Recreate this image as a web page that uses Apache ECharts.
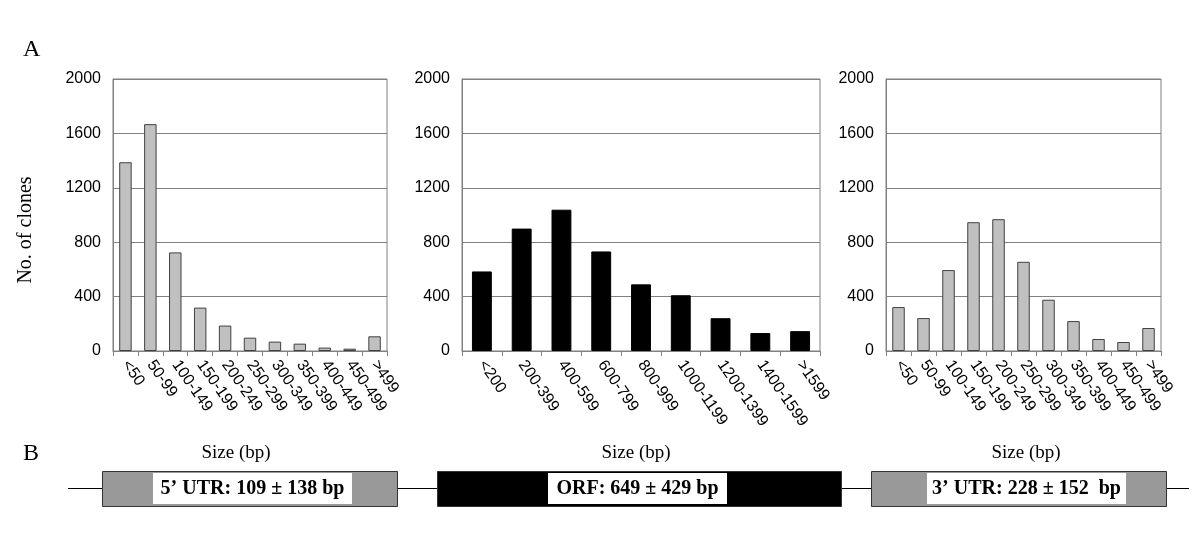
<!DOCTYPE html>
<html lang="en">
<head>
<meta charset="UTF-8">
<title>clone size distribution</title>
<script src="https://cdn.jsdelivr.net/npm/echarts@6/dist/echarts.min.js"></script>
<style>
  html, body { margin: 0; padding: 0; background: #fff; }
  #chart { width: 1200px; height: 540px; }
</style>
</head>
<body>
<div id="chart"></div>
<script>
// size classes and clone counts
const utr5Cats = ['<50', '50-99', '100-149', '150-199', '200-249', '250-299', '300-349', '350-399', '400-449', '450-499', '>499'];
const utr5Counts = [1388, 1668, 725, 319, 187, 98, 69, 54, 25, 17, 108];

const orfCats = ['<200', '200-399', '400-599', '600-799', '800-999', '1000-1199', '1200-1399', '1400-1599', '>1599'];
const orfCounts = [585, 900, 1039, 732, 490, 410, 241, 132, 146];

const utr3Cats = ['<50', '50-99', '100-149', '150-199', '200-249', '250-299', '300-349', '350-399', '400-449', '450-499', '>499'];
const utr3Counts = [323, 242, 595, 947, 969, 656, 377, 220, 88, 66, 169];

// panel B captions
const regionLabels = ['5\u2019 UTR: 109 \u00b1 138 bp', 'ORF: 649 \u00b1 429 bp', '3\u2019 UTR: 228 \u00b1 152  bp'];

const sans = '"Liberation Sans", Arial, sans-serif';
const serif = '"Liberation Serif", "Times New Roman", serif';
const axisGray = '#808080';

const grids = [
  { left: 113, top: 79, width: 274, height: 272 },
  { left: 462, top: 79, width: 358, height: 272 },
  { left: 886, top: 79, width: 275, height: 272 }
];

const panels = [
  { cats: utr5Cats, counts: utr5Counts, color: '#c0c0c0', border: '#404040' },
  { cats: orfCats, counts: orfCounts, color: '#000000', border: '#000000' },
  { cats: utr3Cats, counts: utr3Counts, color: '#c0c0c0', border: '#404040' }
];

const chart = echarts.init(document.getElementById('chart'), null, { renderer: 'canvas' });

// schematic for panel B (layout only, not data)
const boxes = [
  { x: 102, w: 295, fill: '#999999', labelX: 153, labelW: 199 },
  { x: 437, w: 404, fill: '#000000', labelX: 548, labelW: 179 },
  { x: 871, w: 295, fill: '#999999', labelX: 927, labelW: 199 }
];
const graphics = [
  { type: 'text', left: 23, top: 38, style: { text: 'A', font: '24px ' + serif, fill: '#000' } },
  { type: 'text', left: 23, top: 442, style: { text: 'B', font: '24px ' + serif, fill: '#000' } },
  {
    type: 'text', x: 26, y: 230, rotation: Math.PI / 2,
    style: { text: 'No. of clones', font: '20px ' + serif, fill: '#000', align: 'center', verticalAlign: 'middle' }
  },
  { type: 'line', shape: { x1: 68, y1: 488.5, x2: 1189, y2: 488.5 }, style: { stroke: '#000', lineWidth: 1 }, z: 1 }
];
[236, 636, 1026].forEach(cx => {
  graphics.push({
    type: 'text', x: cx, y: 453,
    style: { text: 'Size (bp)', font: '19px ' + serif, fill: '#000', align: 'center', verticalAlign: 'middle' }
  });
});
boxes.forEach((b, i) => {
  graphics.push({
    type: 'rect', shape: { x: b.x + 0.5, y: 471.5, width: b.w, height: 35 },
    style: { fill: b.fill, stroke: '#333', lineWidth: 1 }, z: 2
  });
  graphics.push({
    type: 'rect', shape: { x: b.labelX, y: 473, width: b.labelW, height: 31 },
    style: { fill: '#fff' }, z: 3
  });
  graphics.push({
    type: 'text', x: b.labelX + b.labelW / 2, y: 489, z: 4,
    style: { text: regionLabels[i], font: 'bold 20px ' + serif, fill: '#000', align: 'center', verticalAlign: 'middle' }
  });
});

chart.setOption({
  backgroundColor: '#fff',
  animation: false,
  grid: grids.map(g => Object.assign({ show: true, borderColor: axisGray, borderWidth: 1, backgroundColor: 'transparent' }, g)),
  xAxis: panels.map((p, i) => ({
    type: 'category',
    gridIndex: i,
    data: p.cats,
    boundaryGap: true,
    axisLine: { lineStyle: { color: axisGray, width: 1 } },
    axisTick: { show: true, length: 5, lineStyle: { color: axisGray } },
    axisLabel: { rotate: -55, interval: 0, margin: 11, color: '#000', fontFamily: sans, fontSize: 16 }
  })),
  yAxis: panels.map((p, i) => ({
    type: 'value',
    gridIndex: i,
    min: 0,
    max: 2000,
    interval: 400,
    axisLine: { show: true, lineStyle: { color: axisGray, width: 1 } },
    axisTick: { show: false },
    splitLine: { lineStyle: { color: axisGray, width: 1 } },
    axisLabel: { color: '#000', fontFamily: sans, fontSize: 16, margin: 12, formatter: v => String(v) }
  })),
  series: panels.map((p, i) => ({
    type: 'bar',
    xAxisIndex: i,
    yAxisIndex: i,
    data: p.counts,
    barCategoryGap: '50%',
    itemStyle: { color: p.color, borderColor: p.border, borderWidth: 1 }
  })),
  graphic: graphics
});
</script>
</body>
</html>
